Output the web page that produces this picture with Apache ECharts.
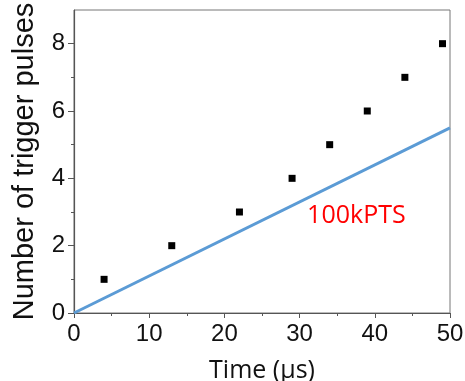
<!DOCTYPE html>
<html>
<head>
<meta charset="utf-8">
<script src="https://cdn.jsdelivr.net/npm/echarts@6/dist/echarts.min.js"></script>
<style>
  html, body { margin: 0; padding: 0; background: #fff; }
  #chart { width: 465px; height: 381px; }
</style>
</head>
<body>
<div id="chart"></div>
<script>
// measured pulses
const timeUs = [4, 13, 22, 29, 34, 39, 44, 49];
const pulses = [1, 2, 3, 4, 5, 6, 7, 8];

// 100kPTS reference line
const refTime = [0, 50];
const refPulses = [0, 5.5];

const yMajorTicks = [0, 2, 4, 6, 8];
const yMinorTicks = [1, 3, 5, 7];

const labelPos = [31, 2.88];
const labelText = '100kPTS';

const axisColor = '#555';
const arial = 'Liberation Sans';

const chart = echarts.init(document.getElementById('chart'), null, { renderer: 'canvas' });

const option = {
  animation: false,
  backgroundColor: '#fff',
  grid: {
    left: 74, right: 15, top: 10, bottom: 68,
    outerBoundsMode: 'none',
    show: true, borderColor: '#777', borderWidth: 1
  },
  xAxis: {
    type: 'value',
    min: 0, max: 50, interval: 10,
    name: 'Time (μs)',
    nameLocation: 'middle',
    nameGap: 45,
    nameTextStyle: { fontFamily: 'Open Sans', fontSize: 25, color: '#111' },
    axisLine: { show: true, onZero: false, lineStyle: { color: axisColor, width: 1.2 } },
    axisTick: { show: true, inside: false, length: 5, lineStyle: { color: axisColor } },
    minorTick: { show: true, splitNumber: 2, length: 3, lineStyle: { color: axisColor } },
    axisLabel: { fontFamily: arial, fontSize: 24, color: '#111', margin: 9 },
    splitLine: { show: false }
  },
  yAxis: [
    {
      type: 'value',
      min: 0, max: 9,
      name: 'Number of trigger pulses',
      nameLocation: 'middle',
      nameGap: 35,
      nameTextStyle: { fontFamily: arial, fontSize: 29, color: '#111' },
      axisLine: { show: true, onZero: false, lineStyle: { color: axisColor, width: 1.2 } },
      axisTick: { show: true, length: 6, customValues: yMajorTicks, lineStyle: { color: axisColor } },
      axisLabel: { customValues: yMajorTicks, fontFamily: arial, fontSize: 24, color: '#111', margin: 9 },
      splitLine: { show: false }
    },
    {
      type: 'value',
      min: 0, max: 9,
      position: 'left',
      axisLine: { show: false },
      axisTick: { show: true, length: 3, customValues: yMinorTicks, lineStyle: { color: axisColor } },
      axisLabel: { show: false },
      splitLine: { show: false }
    }
  ],
  series: [
    {
      type: 'line',
      data: refTime.map((t, i) => [t, refPulses[i]]),
      showSymbol: false,
      lineStyle: { color: '#5B9BD5', width: 3 },
      z: 2
    },
    {
      type: 'scatter',
      data: timeUs.map((t, i) => [t, pulses[i]]),
      symbol: 'rect',
      symbolSize: 7,
      itemStyle: { color: '#000', opacity: 1 },
      z: 3
    }
  ]
};

chart.setOption(option);

const p = chart.convertToPixel({ gridIndex: 0 }, labelPos);
chart.setOption({
  graphic: [{
    type: 'text',
    x: p[0], y: p[1],
    style: {
      text: labelText,
      fill: '#ff0000',
      font: '25px "Open Sans"',
      align: 'left',
      verticalAlign: 'middle'
    }
  }]
});
</script>
</body>
</html>
